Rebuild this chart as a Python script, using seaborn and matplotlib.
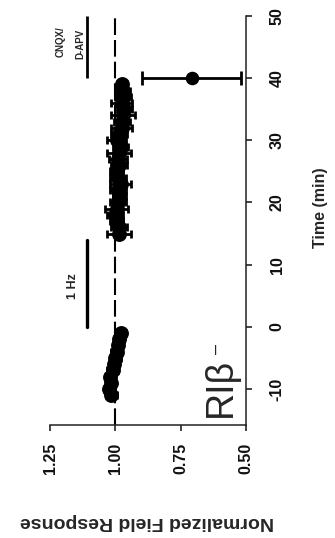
import matplotlib
matplotlib.use("Agg")
import matplotlib.pyplot as plt
import seaborn as sns
import pandas as pd

# ---- data ----
time_base = [-11, -10, -9, -8, -7, -6, -5, -4, -3, -2, -1]
resp_base = [1.015, 1.025, 1.015, 1.02, 1.01, 1.005, 1.0, 0.995, 0.99, 0.985, 0.98]
err_base = [0.02, 0.02, 0.015, 0.02, 0.02, 0.015, 0.02, 0.02, 0.015, 0.02, 0.02]

time_post = [15, 16, 17, 18, 19, 20, 21, 22, 23, 24, 25, 26, 27,
             28, 29, 30, 31, 32, 33, 34, 35, 36, 37, 38, 39]
resp_post = [0.985, 0.985, 0.995, 1.0, 0.995, 0.99, 0.985, 0.99, 0.98, 0.99,
             0.995, 0.985, 0.99, 0.985, 0.98, 0.995, 0.985, 0.975, 0.975, 0.97,
             0.965, 0.975, 0.97, 0.97, 0.975]
err_post = [0.045, 0.03, 0.025, 0.03, 0.045, 0.03, 0.025, 0.03, 0.04, 0.03,
            0.025, 0.03, 0.035, 0.045, 0.03, 0.035, 0.03, 0.04, 0.03, 0.045,
            0.03, 0.04, 0.03, 0.025, 0.02]

time_drug = [40]
resp_drug = [0.708]
err_drug = [0.19]

x_ticks = [1.25, 1.00, 0.75, 0.50]
x_ticklabels = ["1.25", "1.00", "0.75", "0.50"]
t_ticks = [-10, 0, 10, 20, 30, 40, 50]

df = pd.DataFrame({
    "time": time_base + time_post,
    "resp": resp_base + resp_post,
    "err": err_base + err_post,
})
df_drug = pd.DataFrame({"time": time_drug, "resp": resp_drug, "err": err_drug})

sns.set_theme(style="ticks")
plt.rcParams["font.family"] = ["Liberation Sans", "DejaVu Sans"]
plt.rcParams["font.weight"] = "bold"

fig = plt.figure(figsize=(3.35, 5.38), dpi=100)
ax = fig.add_axes([50 / 335, 1 - 425 / 538, 196 / 335, 409 / 538])

# reference line at 1.00
ax.axvline(1.0, color="black", lw=1.5, ls=(0, (8, 2.4)), zorder=1)

# error bars
ax.errorbar(df["resp"], df["time"], xerr=df["err"], fmt="none",
            ecolor="black", elinewidth=2, capsize=3, capthick=2, zorder=2)
ax.errorbar(df_drug["resp"], df_drug["time"], xerr=df_drug["err"], fmt="none",
            ecolor="black", elinewidth=2, capsize=5, capthick=2, zorder=2)

sns.scatterplot(data=df, x="resp", y="time", color="black", s=115,
                edgecolor="black", linewidth=0, ax=ax, zorder=3, legend=False)
sns.scatterplot(data=df_drug, x="resp", y="time", color="black", s=95,
                edgecolor="black", linewidth=0, ax=ax, zorder=3, legend=False)

ax.set_xlim(1.25, 0.50)
ax.set_ylim(-15.8, 50)
ax.set_xticks(x_ticks)
ax.set_xticklabels(x_ticklabels)
ax.set_yticks(t_ticks)
ax.set_yticklabels([str(t) for t in t_ticks])

ax.yaxis.tick_right()
ax.yaxis.set_label_position("right")
for s in ["left", "top"]:
    ax.spines[s].set_visible(False)
for s in ["right", "bottom"]:
    ax.spines[s].set_linewidth(1.1)
    ax.spines[s].set_color("#222222")

ax.tick_params(axis="x", direction="out", length=4, width=1.1, pad=9,
               labelsize=11.5, labelrotation=90, colors="#111111")
ax.tick_params(axis="y", direction="out", length=4, width=1.1, pad=13,
               labelsize=11.5, labelrotation=90, colors="#111111")
for lab in ax.get_yticklabels():
    lab.set_verticalalignment("center")
    lab.set_fontweight("bold")
for lab in ax.get_xticklabels():
    lab.set_fontweight("bold")

ax.set_xlabel("Normalized Field Response", fontsize=14, fontweight="bold",
              rotation=180, ha="center", va="center")
ax.xaxis.set_label_coords(0.495, -0.237)
ax.set_ylabel("Time (min)", fontsize=11.5, fontweight="bold",
              rotation=90, ha="center", va="center")
ax.yaxis.set_label_coords(1.378, 0.531)

# annotation bars and labels
ax.plot([1.109, 1.109], [0, 14], color="black", lw=2.4, solid_capstyle="round")
ax.text(1.162, 6.5, "1 Hz", rotation=90, ha="center", va="center",
        fontsize=9, fontweight="bold")
ax.plot([1.109, 1.109], [40, 50], color="black", lw=2.0, solid_capstyle="butt")
ax.text(1.208, 45.8, "CNQX/", rotation=90, ha="center", va="center",
        fontsize=7, fontweight="bold")
ax.text(1.135, 45.5, "D-APV", rotation=90, ha="center", va="center",
        fontsize=7, fontweight="bold")

ax.text(0.597, -9.8, "RIβ", rotation=90, ha="center", va="center",
        fontsize=27, fontweight="normal",
        family=["Liberation Sans Narrow", "Liberation Sans", "DejaVu Sans"])
ax.text(0.615, -3.6, "–", rotation=90, ha="center", va="center",
        fontsize=13, fontweight="normal")

fig.savefig("out.png", dpi=100)
